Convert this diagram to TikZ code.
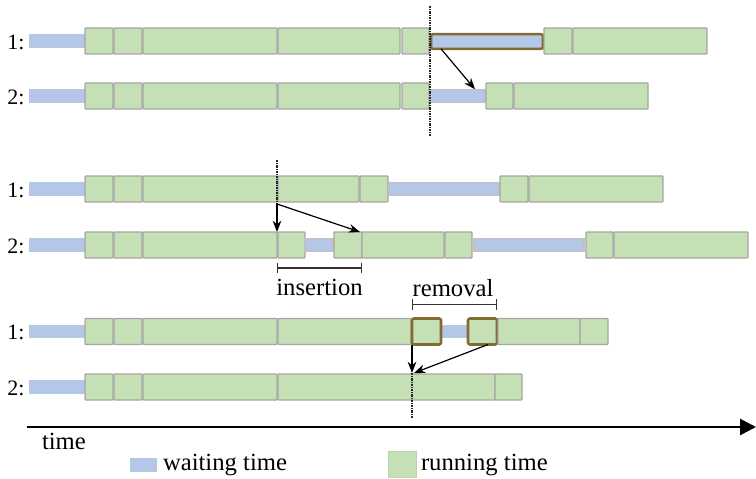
\documentclass[tikz,border=0pt]{standalone}
\usepackage{fontspec}
\setmainfont{Liberation Serif}
\newfontfamily\tnr{Liberation Serif}
\usetikzlibrary{arrows.meta,calc}
\definecolor{rungreen}{HTML}{C5E0B4}
\definecolor{waitblue}{HTML}{B4C7E7}
\definecolor{boxgray}{HTML}{A6A6A6}
\definecolor{hlbrown}{HTML}{836A33}
\newcommand\gbx[5][]{\node[gbox,#1,minimum width={(#4-#3)*0.75pt},anchor=west] (#2) at (#3,#5) {};}
\newcommand\bbx[5][]{\node[bbox,#1,minimum width={(#4-#3)*0.75pt},anchor=west] (#2) at (#3,#5) {};}
\begin{document}
\begin{tikzpicture}[x=0.75pt,y=-0.75pt,
  gbox/.style={draw=boxgray,fill=rungreen,line width=1pt,minimum height=19.5pt,inner sep=0pt,outer sep=0pt,rounded corners=0.6pt},
  bbox/.style={fill=waitblue,minimum height=10pt,inner sep=0pt,outer sep=0pt},
  bline/.style={draw=boxgray!70,line width=0.8pt},
  hl/.style={draw=hlbrown,line width=1.9pt,rounded corners=1.5pt},
  dashline/.style={draw=black!85,line width=1.1pt,dash pattern=on 1.8pt off 0.7pt on 0.8pt off 0.7pt},
  arr/.style={draw=black,line width=0.9pt,-{Stealth[length=8.5pt,width=6.5pt]}},
  brk/.style={draw=black!80,line width=1pt,{Bar[width=8pt]}-{Bar[width=8pt]}},
  txt/.style={font=\tnr\fontsize{18.5}{20}\selectfont,inner sep=0pt,outer sep=0pt},
  lbl/.style={font=\tnr\fontsize{16.5}{18}\selectfont,inner sep=0pt,outer sep=0pt},
  timearr/.style={draw=black,line width=2pt,-{Triangle[length=12pt,width=12pt]}}
]
\useasboundingbox (0,0) rectangle (756,478);
% ---------- section 1 ----------
\node[lbl] (l11) at (16,42) {1:};
\node[lbl] (l12) at (16,97) {2:};
\bbx{w11a}{29}{85}{41}
\gbx{g11a}{85}{113}{41}
\gbx{g11b}{114}{142}{41}
\gbx{g11c}{143}{277}{41}
\gbx{g11d}{278}{400}{41}
\gbx{g11e}{402}{429}{41}
\bbx[hl,minimum height=11pt]{h1}{431}{543}{41.5}
\gbx{g11f}{544}{572}{41}
\gbx{g11g}{573}{707}{41}
\bbx{w12a}{29}{85}{96}
\gbx{g12a}{85}{113}{96}
\gbx{g12b}{114}{142}{96}
\gbx{g12c}{143}{277}{96}
\gbx{g12d}{278}{400}{96}
\gbx{g12e}{402}{429}{96}
\bbx[bline]{w12b}{430}{485}{96}
\gbx{g12f}{486}{513}{96}
\gbx{g12g}{514}{648}{96}
\coordinate (d1t) at (430,6);
\coordinate (d1b) at (430,136);
\draw[dashline] (d1t) -- (d1b);
\draw[arr] ([xshift=7.5pt]h1.south west) -- ([xshift=-7.5pt]w12b.north east);
% ---------- section 2 ----------
\node[lbl] (l21) at (16,190) {1:};
\node[lbl] (l22) at (16,246) {2:};
\bbx{w21a}{29}{85}{189}
\gbx{g21a}{85}{113}{189}
\gbx{g21b}{114}{142}{189}
\gbx{g21c}{143}{277}{189}
\gbx{g21d}{278}{359}{189}
\gbx{g21e}{360}{388}{189}
\bbx[bline]{w21b}{389}{499}{189}
\gbx{g21f}{500}{528}{189}
\gbx{g21g}{529}{663}{189}
\bbx{w22a}{29}{85}{245}
\gbx{g22a}{85}{113}{245}
\gbx{g22b}{114}{142}{245}
\gbx{g22c}{143}{277}{245}
\gbx{g22d}{278}{305}{245}
\bbx[bline]{w22b}{305}{333}{245}
\gbx{g22e}{334}{362}{245}
\gbx{g22f}{362}{444}{245}
\gbx{g22g}{445}{472}{245}
\bbx[bline]{w22c}{474}{584}{245}
\gbx{g22h}{586}{613}{245}
\gbx{g22i}{614}{748}{245}
\coordinate (d2t) at (277,160);
\coordinate (d2b) at (277,204);
\draw[dashline] (d2t) -- (d2b);
\draw[arr] (d2b) -- (d2b |- g22d.north);
\draw[arr] (d2b) -- ([xshift=-1.5pt]g22e.north east);
\coordinate (ins1) at (277,268);
\coordinate (ins2) at (362,268);
\draw[brk] (ins1) -- (ins2);
\node[txt,anchor=base] (tins) at (319.5,295) {insertion};
% ---------- section 3 ----------
\node[lbl] (l31) at (16,332) {1:};
\node[lbl] (l32) at (16,388) {2:};
\bbx{w31a}{29}{85}{331.5}
\gbx{g31a}{85}{113}{331.5}
\gbx{g31b}{114}{142}{331.5}
\gbx{g31c}{143}{277}{331.5}
\gbx{g31d}{278}{411}{331.5}
\bbx{w31b}{441}{468}{331.5}
\gbx[hl]{h3a}{412}{441}{331.5}
\gbx[hl]{h3b}{468}{497}{331.5}
\gbx{g31e}{498}{580}{331.5}
\gbx{g31f}{580}{608}{331.5}
\bbx{w32a}{29}{85}{387}
\gbx{g32a}{85}{113}{387}
\gbx{g32b}{114}{142}{387}
\gbx{g32c}{143}{277}{387}
\gbx{g32d}{278}{495}{387}
\gbx{g32e}{495}{522}{387}
\coordinate (d3t) at (412,373);
\coordinate (d3b) at (412,418);
\draw[dashline] (d3t) -- (d3b);
\draw[arr] (h3a.south west) -- (d3t);
\draw[arr] ([xshift=-6.75pt]h3b.south east) -- ([xshift=1.5pt]d3t);
\coordinate (rem1) at (412,304.5);
\coordinate (rem2) at (497,304.5);
\draw[brk] (rem1) -- (rem2);
\node[txt,anchor=base] (trem) at (453,296) {removal};
% ---------- time axis and legend ----------
\coordinate (t0) at (27,427);
\coordinate (t1) at (756,427);
\draw[timearr] (t0) -- (t1);
\node[txt,anchor=base west] (ttime) at (42,449) {time};
\node[bbox,minimum width=20.25pt,minimum height=10.5pt] (lgw) at (143.5,465) {};
\node[txt,anchor=base west] (twait) at (163,470) {waiting time};
\node[fill=rungreen,draw=rungreen!85!gray,line width=0.5pt,minimum width=21pt,minimum height=19.5pt,inner sep=0pt] (lgr) at (402,464) {};
\node[txt,anchor=base west] (trun) at (421,470) {running time};
\end{tikzpicture}
\end{document}
